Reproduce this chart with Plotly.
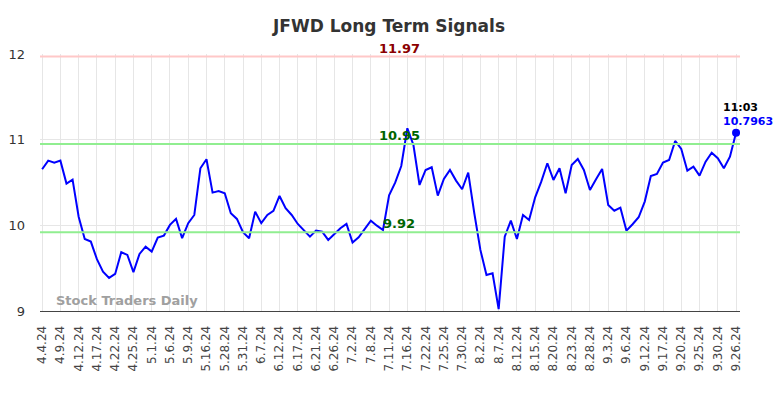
import plotly.graph_objects as go

tick_labels = ["4.4.24", "4.9.24", "4.12.24", "4.17.24", "4.22.24", "4.25.24", "5.1.24", "5.6.24",
               "5.9.24", "5.16.24", "5.28.24", "5.31.24", "6.7.24", "6.12.24", "6.17.24", "6.21.24",
               "6.26.24", "7.2.24", "7.8.24", "7.11.24", "7.16.24", "7.22.24", "7.25.24", "7.30.24",
               "8.2.24", "8.7.24", "8.12.24", "8.15.24", "8.20.24", "8.23.24", "8.28.24", "9.3.24",
               "9.6.24", "9.12.24", "9.17.24", "9.20.24", "9.25.24", "9.30.24", "9.26.24"]

values = [10.655, 10.755, 10.73, 10.755, 10.487, 10.533, 10.10, 9.84, 9.81, 9.605,
          9.46, 9.386, 9.433, 9.686, 9.655, 9.453, 9.666, 9.751, 9.693, 9.856,
          9.88, 10.005, 10.075, 9.85, 10.025, 10.121, 10.666, 10.771, 10.382, 10.40,
          10.375, 10.141, 10.075, 9.92, 9.85, 10.16, 10.025, 10.121, 10.168, 10.343,
          10.2, 10.121, 10.016, 9.938, 9.868, 9.938, 9.926, 9.83, 9.90, 9.966,
          10.016, 9.80, 9.861, 9.955, 10.055, 9.996, 9.946, 10.35, 10.498, 10.693,
          11.133, 10.938, 10.471, 10.646, 10.678, 10.347, 10.541, 10.646, 10.522, 10.421,
          10.615, 10.141, 9.713, 9.421, 9.441, 9.021, 9.868, 10.055, 9.841, 10.121,
          10.063, 10.327, 10.51, 10.725, 10.53, 10.666, 10.375, 10.705, 10.775, 10.646,
          10.413, 10.538, 10.658, 10.238, 10.171, 10.206, 9.938, 10.013, 10.094, 10.277,
          10.576, 10.6, 10.732, 10.763, 10.985, 10.891, 10.638, 10.685, 10.58, 10.743,
          10.848, 10.783, 10.666, 10.801, 11.08]

resistance = 11.97
mid_level = 10.95
support = 9.92
last_time = "11:03"
last_label = "10.7963"

x = list(range(len(values)))
tick_step = 3
tickvals = list(range(0, len(values), tick_step))

fig = go.Figure()
fig.add_trace(go.Scatter(x=x, y=values, mode="lines",
                         line=dict(color="#0000ff", width=2), hoverinfo="skip"))
fig.add_trace(go.Scatter(x=[x[-1]], y=[values[-1]], mode="markers",
                         marker=dict(color="#0000ff", size=8), hoverinfo="skip"))

fig.add_hline(y=resistance, line=dict(color="#ffc8c8", width=2))
fig.add_hline(y=mid_level, line=dict(color="#90ee90", width=2))
fig.add_hline(y=support, line=dict(color="#90ee90", width=2))

lbl_x = 58.7
font_b = "DejaVu Sans"
fig.add_annotation(x=lbl_x, y=resistance, text="<b>11.97</b>", showarrow=False,
                   yanchor="bottom", yshift=-1, font=dict(color="#8b0000", size=13, family=font_b))
fig.add_annotation(x=lbl_x, y=mid_level, text="<b>10.95</b>", showarrow=False,
                   yanchor="bottom", yshift=-1, font=dict(color="#006400", size=13, family=font_b))
fig.add_annotation(x=lbl_x, y=support, text="<b>9.92</b>", showarrow=False,
                   yanchor="bottom", yshift=-1, font=dict(color="#006400", size=13, family=font_b))

fig.add_annotation(x=x[-1], y=values[-1], text="<b>" + last_time + "</b>", showarrow=False,
                   xanchor="left", xshift=-15, yanchor="bottom", yshift=17,
                   font=dict(color="#000000", size=11, family=font_b))
fig.add_annotation(x=x[-1], y=values[-1], text="<b>" + last_label + "</b>", showarrow=False,
                   xanchor="left", xshift=-15, yanchor="bottom", yshift=3,
                   font=dict(color="#0000ff", size=11, family=font_b))

fig.add_annotation(xref="paper", yref="paper", x=0.02, y=0.005, text="<b>Stock Traders Daily</b>",
                   showarrow=False, xanchor="left", yanchor="bottom",
                   font=dict(color="#a0a0a0", size=13, family=font_b))

fig.update_layout(
    width=776, height=390,
    margin=dict(l=32, r=44, t=46, b=87),
    paper_bgcolor="#ffffff", plot_bgcolor="#ffffff",
    showlegend=False,
    title=dict(text="<b>JFWD Long Term Signals</b>", x=0.491, xanchor="center", y=0.954, yanchor="middle",
               font=dict(size=17, color="#333333", family=font_b)),
    font=dict(family=font_b),
)
fig.update_xaxes(range=[-0.35, len(values) - 1 + 0.65], tickvals=tickvals, ticktext=tick_labels,
                 tickangle=-90, tickfont=dict(size=12, color="#444444"), ticklabelstandoff=9,
                 automargin=False,
                 showgrid=True, gridcolor="#e6e6e6", gridwidth=1,
                 showline=True, linecolor="#444444", linewidth=1, zeroline=False, ticks="")
fig.update_yaxes(range=[9, 12], tickvals=[9, 10, 11, 12], tickfont=dict(size=13, color="#333333"),
                 ticklabelstandoff=14, automargin=False,
                 showgrid=True, gridcolor="#e6e6e6", gridwidth=1, zeroline=False, ticks="",
                 ticklen=0, showline=False)

fig.write_html("out.html")
